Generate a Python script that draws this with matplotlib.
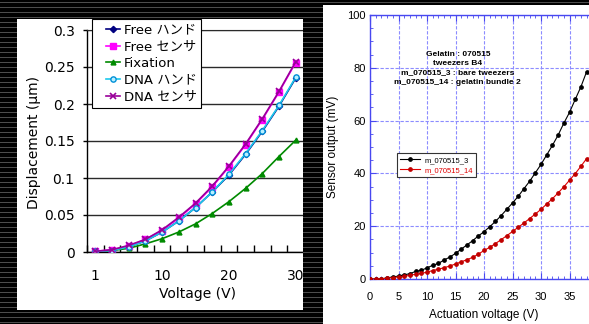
import numpy as np
import matplotlib
matplotlib.use('Agg')
import matplotlib.pyplot as plt
from matplotlib.patches import Rectangle
from matplotlib.lines import Line2D
from matplotlib.legend_handler import HandlerLine2D
from matplotlib.ticker import FixedLocator, MultipleLocator, FormatStrFormatter

# ---------------- left chart data ----------------
cat_index = list(range(13))
cat_tick_pos = [0, 4, 8, 12]
cat_tick_labels = ['1', '10', '20', '30']
free_hand = [0.001, 0.002, 0.007, 0.015, 0.027, 0.042, 0.060, 0.081, 0.104, 0.132, 0.163, 0.197, 0.235]
free_sensor = [0.001, 0.003, 0.008, 0.017, 0.029, 0.046, 0.065, 0.088, 0.115, 0.145, 0.179, 0.216, 0.256]
fixation = [0.001, 0.002, 0.005, 0.011, 0.018, 0.027, 0.038, 0.052, 0.068, 0.086, 0.106, 0.129, 0.151]
dna_hand = [0.001, 0.002, 0.007, 0.015, 0.027, 0.042, 0.060, 0.081, 0.105, 0.133, 0.164, 0.198, 0.236]
dna_sensor = [0.001, 0.003, 0.009, 0.017, 0.030, 0.047, 0.066, 0.089, 0.116, 0.146, 0.180, 0.217, 0.257]
left_labels = ['Free ハンド', 'Free センサ', 'Fixation', 'DNA ハンド', 'DNA センサ']

# ---------------- right chart data ----------------
act_voltage = list(range(39))
m_3 = [0.0, 0.0, 0.1, 0.4, 0.8, 1.1, 1.6, 2.0, 2.9, 3.3, 4.2, 5.2, 5.9, 7.2, 8.3, 9.7,
       11.3, 12.9, 14.5, 16.3, 17.9, 19.8, 21.8, 24.0, 26.4, 28.8, 31.3, 34.2, 37.0,
       40.2, 43.4, 47.0, 50.6, 54.5, 59.0, 63.1, 68.0, 72.8, 78.5]
m_14 = [0.0, 0.0, 0.1, 0.3, 0.5, 0.8, 1.0, 1.4, 1.8, 2.1, 2.6, 3.2, 3.7, 4.3, 4.9, 5.7,
        6.5, 7.3, 8.2, 9.4, 10.8, 12.0, 13.4, 14.9, 16.4, 18.0, 19.6, 21.2, 22.9,
        24.6, 26.4, 28.4, 30.4, 32.6, 34.9, 37.4, 39.9, 42.7, 45.6]
right_xticks = [0, 5, 10, 15, 20, 25, 30, 35]
right_labels = ['m_070515_3', 'm_070515_14']
note = "Gelatin : 070515\ntweezers B4\nm_070515_3 : bare tweezers\nm_070515_14 : gelatin bundle 2"

W, H = 589, 324
fig = plt.figure(figsize=(W / 100, H / 100), dpi=100)

# striped black background
bg = np.zeros((H, W, 3))
bg[2::5, :, :] = 0.3
fig.figimage(bg, xo=0, yo=0, origin='upper', zorder=0)


def fig_rect(x0, y0, x1, y1, **kw):
    r = Rectangle((x0 / W, 1 - y1 / H), (x1 - x0) / W, (y1 - y0) / H,
                  transform=fig.transFigure, **kw)
    fig.add_artist(r)
    return r


fig_rect(17, 19, 303, 310, fc='white', ec='none', zorder=0.5)
fig_rect(323, 5, 589, 324, fc='white', ec='none', zorder=0.5)

# ---------------- left chart ----------------
lfont = ['DejaVu Sans', 'Noto Sans CJK JP']
ax1 = fig.add_axes([87 / W, 1 - 252 / H, (304 - 87) / W, (252 - 30) / H])
ax1.set_zorder(1)
ax1.set_facecolor('white')
ax1.set_xlim(-0.5, 12.5)
ax1.set_ylim(0, 0.3)

styles = [
    dict(color='#000080', marker='D', ms=3.2, mfc='#000080', mec='#000080'),
    dict(color='#ff00ff', marker='s', ms=4.2, mfc='#ff00ff', mec='#ff00ff'),
    dict(color='#008a00', marker='^', ms=3.5, mfc='#008a00', mec='#008a00'),
    dict(color='#1cc8ec', marker='o', ms=3.8, mfc='#b8f0ff', mec='#0090d8', mew=1.0),
    dict(color='#990099', marker='x', ms=4.0, mec='#990099', mew=1.2),
]
series = [free_hand, free_sensor, fixation, dna_hand, dna_sensor]
for vals, st, lab, z in zip(series, styles, left_labels, [3, 4, 3, 5, 6]):
    ax1.plot(cat_index, vals, lw=1.2, label=lab, zorder=z, **st)

ax1.yaxis.set_major_locator(MultipleLocator(0.05))
ax1.yaxis.set_major_formatter(FormatStrFormatter('%g'))
ax1.yaxis.grid(True, color='#2a2a2a', lw=1.0)
ax1.set_axisbelow(True)
ax1.xaxis.set_major_locator(FixedLocator(cat_tick_pos))
ax1.set_xticklabels(cat_tick_labels)
ax1.xaxis.set_minor_locator(FixedLocator(np.arange(-0.5, 13, 1.0)))
ax1.tick_params(axis='x', which='major', length=0, pad=12, labelsize=10)
ax1.tick_params(axis='x', which='minor', direction='in', length=5, width=1, color='black')
ax1.tick_params(axis='y', which='major', direction='out', length=3, width=1, pad=6, labelsize=10)
for lbl in ax1.get_xticklabels() + ax1.get_yticklabels():
    lbl.set_family(lfont)
ax1.spines['right'].set_visible(False)
ax1.spines['top'].set_color('#2a2a2a')
for s in ['left', 'bottom']:
    ax1.spines[s].set_color('black')
    ax1.spines[s].set_linewidth(1.0)
ax1.set_ylabel('Displacement (μm)', fontsize=10, family=lfont)
ax1.yaxis.set_label_coords(-0.212, 0.495)
ax1.set_xlabel('Voltage (V)', fontsize=10, family=lfont)
ax1.xaxis.set_label_coords(0.507, -0.158)

leg1 = ax1.legend(loc='upper left', bbox_to_anchor=(92 / W, 1 - 19 / H),
                  bbox_transform=fig.transFigure, borderaxespad=0, frameon=True,
                  fancybox=False, edgecolor='black', framealpha=1,
                  prop={'family': lfont, 'size': 9.5}, handlelength=1.8,
                  handletextpad=0.25, labelspacing=0.28, borderpad=0.35,
                  handler_map={Line2D: HandlerLine2D(xpad=0.7)})
leg1.get_frame().set_linewidth(0.8)
leg1.set_zorder(10)

# ---------------- right chart ----------------
rfont = 'Liberation Sans'
ax2 = fig.add_axes([370 / W, 1 - 279 / H, 228 / W, 264 / H])
ax2.set_zorder(1)
ax2.set_facecolor('white')
ax2.set_xlim(0, 40)
ax2.set_ylim(0, 100)
ax2.plot(act_voltage, m_3, color='black', lw=0.8, marker='o', ms=2.4, label=right_labels[0], zorder=4)
ax2.plot(act_voltage, m_14, color='#e00000', lw=0.8, marker='o', ms=2.4,
         mfc='#c00000', mec='#c00000', label=right_labels[1], zorder=4)

blue = '#4848f0'
ax2.xaxis.set_major_locator(FixedLocator(right_xticks))
ax2.xaxis.set_minor_locator(MultipleLocator(1))
ax2.yaxis.set_major_locator(MultipleLocator(20))
ax2.yaxis.set_minor_locator(MultipleLocator(5))
ax2.grid(True, which='major', color='#8c8cff', lw=0.8, ls=(0, (3, 1.5)))
ax2.set_axisbelow(True)
ax2.tick_params(which='both', direction='in', color=blue, top=True, right=True,
                labelsize=8, labelcolor='black')
ax2.tick_params(which='major', length=4, width=0.8)
ax2.tick_params(which='minor', length=2, width=0.6)
ax2.tick_params(axis='x', pad=9)
ax2.tick_params(axis='y', pad=3)
for lbl in ax2.get_xticklabels() + ax2.get_yticklabels():
    lbl.set_family(rfont)
for s in ax2.spines.values():
    s.set_color(blue)
    s.set_linewidth(1.0)
ax2.set_ylabel('Sensor output (mV)', fontsize=8.5, family=rfont)
ax2.yaxis.set_label_coords(-0.134, 0.5)
ax2.set_xlabel('Actuation voltage (V)', fontsize=8.5, family=rfont)
ax2.xaxis.set_label_coords(0.5, -0.112)

ax2.text(15.4, 79.8, note, ha='center', va='center', fontsize=6, fontweight='bold',
         family=rfont, linespacing=1.45)

leg2 = ax2.legend(loc='upper left', bbox_to_anchor=(397 / W, 1 - 153 / H),
                  bbox_transform=fig.transFigure, borderaxespad=0, frameon=True,
                  fancybox=False, edgecolor='#333333', framealpha=1,
                  prop={'family': rfont, 'size': 5.5}, handlelength=2.6,
                  handletextpad=0.5, labelspacing=0.35, borderpad=0.45)
leg2.get_frame().set_linewidth(0.8)
leg2.get_texts()[1].set_color('#e00000')

# black strip between the panels (covers overflowing left-chart labels)
fig.figimage(bg[:, 303:323, :], xo=303, yo=0, origin='upper', zorder=20)

fig.savefig('out.png', dpi=100)
